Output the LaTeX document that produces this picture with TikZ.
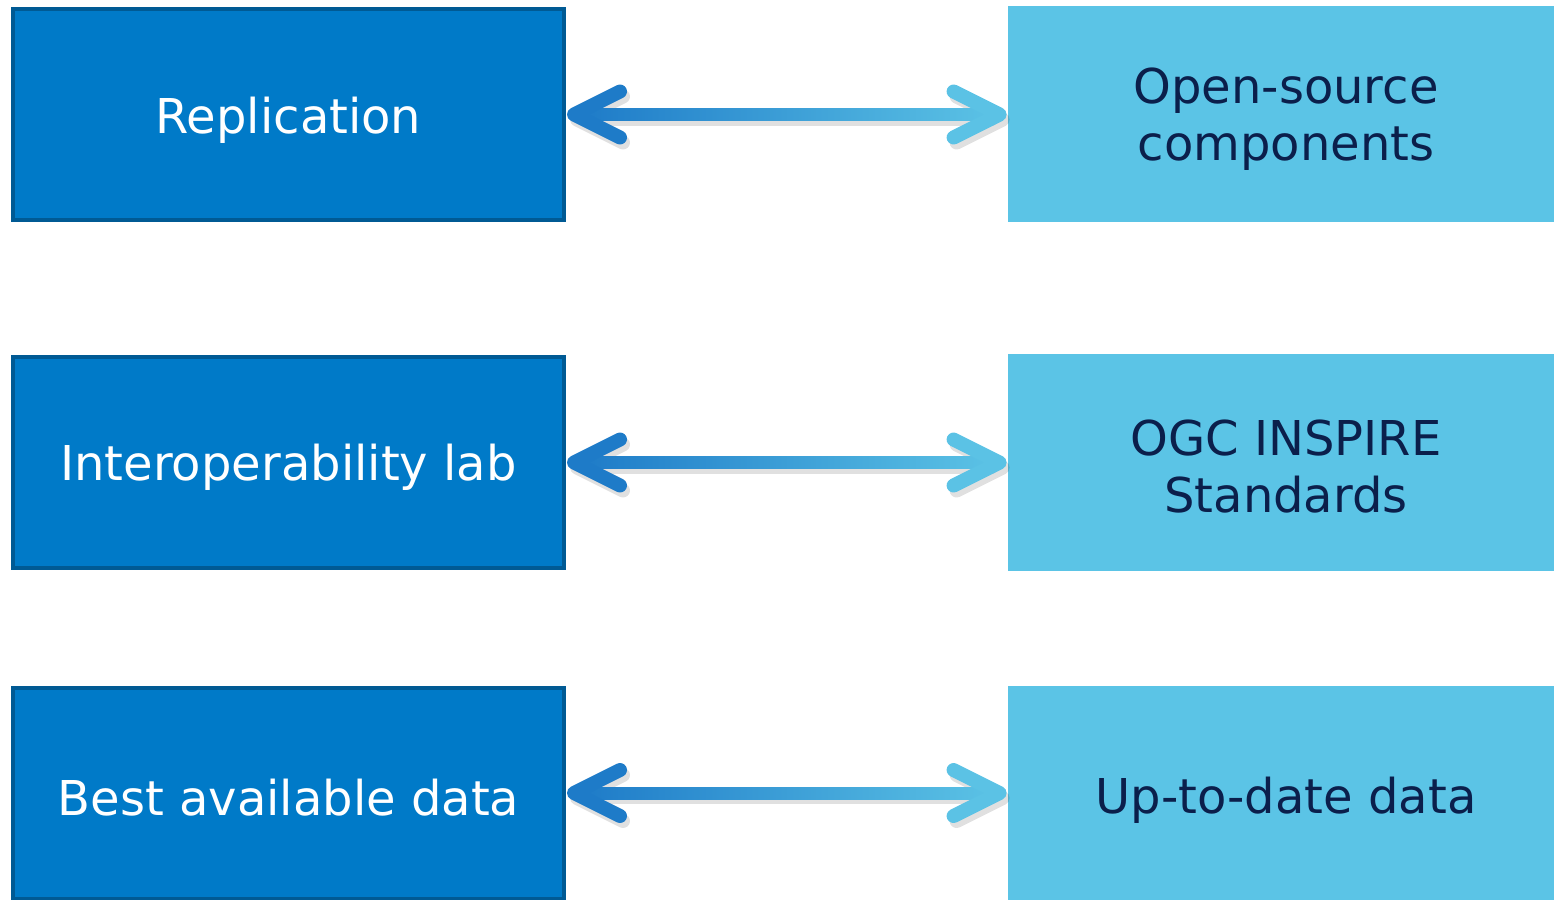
\documentclass[tikz,border=0pt]{standalone}
\usepackage{fontspec}
\setmainfont{DejaVu Sans}
\usetikzlibrary{calc}
\definecolor{darkbox}{HTML}{007AC8}
\definecolor{darkedge}{HTML}{005A94}
\definecolor{lightbox}{HTML}{5BC4E6}
\definecolor{navytext}{HTML}{0B1F4B}
\definecolor{arrowA}{HTML}{1E7BC8}
\definecolor{arrowB}{HTML}{5BC2E5}
\tikzset{
  leftbox/.style={draw=darkedge, line width=2pt, fill=darkbox,
    minimum width=275.5pt, minimum height=105.5pt, inner sep=0pt},
  leftlabel/.style={text=white, align=center, inner sep=0pt,
    font=\fontsize{24}{28.5}\selectfont},
  rightbox/.style={fill=lightbox, minimum width=278pt, inner sep=0pt},
  rightlabel/.style={text=navytext, align=center, inner sep=0pt,
    font=\fontsize{24}{28.5}\selectfont},
  chev/.style={line width=7pt, line cap=round, line join=round},
  shad/.style={line width=7pt, line cap=round, line join=round, black, opacity=0.12},
}
\begin{document}
\begin{tikzpicture}[x=0.5pt, y=-0.5pt]
\useasboundingbox (0,0) rectangle (1554,900);
% left boxes
\node[leftbox] (L1) at (288.5,114.5) {};
\node[leftbox] (L2) at (288.5,462.5) {};
\node[leftbox] (L3) at (288.5,793) {};
\node[leftlabel] (S1) at (288.5,120) {Replication};
\node[leftlabel] (S2) at (288.5,467) {Interoperability lab};
\node[leftlabel] (S3) at (288.5,798) {Best available data};
% right boxes
\node[rightbox, minimum height=108pt] (R1) at (1286,114) {};
\node[rightbox, minimum height=108.5pt] (R2) at (1286,462.5) {};
\node[rightbox, minimum height=107pt] (R3) at (1286,793) {};
\node[rightlabel] (T1) at (1286,119) {Open-source\\components};
\node[rightlabel] (T2) at (1286,467) {OGC INSPIRE\\Standards};
\node[rightlabel] (T3) at (1286,800) {Up-to-date data};
% arrows
\foreach \a/\b in {L1/R1,L2/R2,L3/R3}{
  \coordinate (p) at ($(\a.east)+(8,0)$);
  \coordinate (q) at ($(\b.west |- p)+(-8,0)$);
  % shadow
  \draw[shad] ($(p)+(49,-18)$) -- ($(p)+(3,5)$) -- ($(p)+(49,28)$);
  \draw[shad] ($(q)+(-43,-18)$) -- ($(q)+(3,5)$) -- ($(q)+(-43,28)$);
  \draw[shad, line width=6pt] ($(p)+(14,5)$) -- ($(q)+(-8,5)$);
  % shaft with gradient
  \shade[left color=arrowA, right color=arrowB] ($(p)+(6,-6)$) rectangle ($(q)+(-6,6)$);
  % heads
  \draw[chev, arrowA] ($(p)+(46,-23)$) -- (p) -- ($(p)+(46,23)$);
  \draw[chev, arrowB] ($(q)+(-46,-23)$) -- (q) -- ($(q)+(-46,23)$);
}
\end{tikzpicture}
\end{document}
